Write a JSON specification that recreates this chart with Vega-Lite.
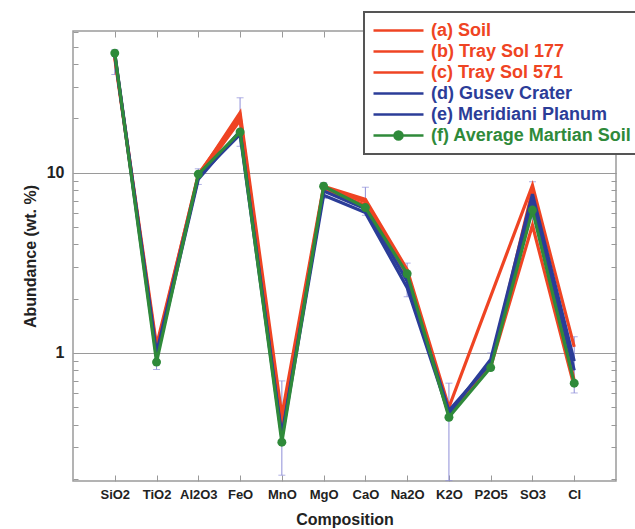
{
  "$schema": "https://vega.github.io/schema/vega-lite/v6.json",
  "autosize": {"type": "none"},
  "padding": {"left": 73, "top": 31, "right": 19, "bottom": 48},
  "width": 543,
  "height": 450,
  "config": {
    "view": {"stroke": "#9a9a9a", "strokeWidth": 1.5},
    "font": "Liberation Sans",
    "axis": {"labelFont": "Liberation Sans", "titleFont": "Liberation Sans"}
  },
  "datasets": {
    "soil": [
      {"oxide": "SiO2", "series": "(a) Soil", "value": 44},
      {"oxide": "TiO2", "series": "(a) Soil", "value": 1.1},
      {"oxide": "Al2O3", "series": "(a) Soil", "value": 9.6},
      {"oxide": "FeO", "series": "(a) Soil", "value": 21.5},
      {"oxide": "MnO", "series": "(a) Soil", "value": 0.45},
      {"oxide": "MgO", "series": "(a) Soil", "value": 8.4},
      {"oxide": "CaO", "series": "(a) Soil", "value": 7.1},
      {"oxide": "Na2O", "series": "(a) Soil", "value": 2.9},
      {"oxide": "K2O", "series": "(a) Soil", "value": 0.5},
      {"oxide": "SO3", "series": "(a) Soil", "value": 8.5},
      {"oxide": "Cl", "series": "(a) Soil", "value": 1.08},
      {"oxide": "SiO2", "series": "(b) Tray Sol 177", "value": 43},
      {"oxide": "TiO2", "series": "(b) Tray Sol 177", "value": 1.05},
      {"oxide": "Al2O3", "series": "(b) Tray Sol 177", "value": 9.8},
      {"oxide": "FeO", "series": "(b) Tray Sol 177", "value": 20.5},
      {"oxide": "MnO", "series": "(b) Tray Sol 177", "value": 0.4},
      {"oxide": "MgO", "series": "(b) Tray Sol 177", "value": 8.2},
      {"oxide": "CaO", "series": "(b) Tray Sol 177", "value": 6.9},
      {"oxide": "Na2O", "series": "(b) Tray Sol 177", "value": 2.8},
      {"oxide": "K2O", "series": "(b) Tray Sol 177", "value": 0.47},
      {"oxide": "P2O5", "series": "(b) Tray Sol 177", "value": 0.85},
      {"oxide": "SO3", "series": "(b) Tray Sol 177", "value": 8.0},
      {"oxide": "Cl", "series": "(b) Tray Sol 177", "value": 0.7},
      {"oxide": "SiO2", "series": "(c) Tray Sol 571", "value": 45},
      {"oxide": "TiO2", "series": "(c) Tray Sol 571", "value": 1.0},
      {"oxide": "Al2O3", "series": "(c) Tray Sol 571", "value": 9.4},
      {"oxide": "FeO", "series": "(c) Tray Sol 571", "value": 19.5},
      {"oxide": "MnO", "series": "(c) Tray Sol 571", "value": 0.42},
      {"oxide": "MgO", "series": "(c) Tray Sol 571", "value": 8.0},
      {"oxide": "CaO", "series": "(c) Tray Sol 571", "value": 6.6},
      {"oxide": "Na2O", "series": "(c) Tray Sol 571", "value": 2.7},
      {"oxide": "K2O", "series": "(c) Tray Sol 571", "value": 0.45},
      {"oxide": "P2O5", "series": "(c) Tray Sol 571", "value": 0.84},
      {"oxide": "SO3", "series": "(c) Tray Sol 571", "value": 5.1},
      {"oxide": "Cl", "series": "(c) Tray Sol 571", "value": 0.65},
      {"oxide": "SiO2", "series": "(d) Gusev Crater", "value": 46},
      {"oxide": "TiO2", "series": "(d) Gusev Crater", "value": 1.0},
      {"oxide": "Al2O3", "series": "(d) Gusev Crater", "value": 9.5},
      {"oxide": "FeO", "series": "(d) Gusev Crater", "value": 16.3},
      {"oxide": "MnO", "series": "(d) Gusev Crater", "value": 0.34},
      {"oxide": "MgO", "series": "(d) Gusev Crater", "value": 7.5},
      {"oxide": "CaO", "series": "(d) Gusev Crater", "value": 6.0},
      {"oxide": "Na2O", "series": "(d) Gusev Crater", "value": 2.3},
      {"oxide": "K2O", "series": "(d) Gusev Crater", "value": 0.46},
      {"oxide": "P2O5", "series": "(d) Gusev Crater", "value": 0.92},
      {"oxide": "SO3", "series": "(d) Gusev Crater", "value": 7.6},
      {"oxide": "Cl", "series": "(d) Gusev Crater", "value": 0.9},
      {"oxide": "SiO2", "series": "(e) Meridiani Planum", "value": 45},
      {"oxide": "TiO2", "series": "(e) Meridiani Planum", "value": 0.95},
      {"oxide": "Al2O3", "series": "(e) Meridiani Planum", "value": 9.2},
      {"oxide": "FeO", "series": "(e) Meridiani Planum", "value": 17.0},
      {"oxide": "MnO", "series": "(e) Meridiani Planum", "value": 0.35},
      {"oxide": "MgO", "series": "(e) Meridiani Planum", "value": 7.9},
      {"oxide": "CaO", "series": "(e) Meridiani Planum", "value": 6.3},
      {"oxide": "Na2O", "series": "(e) Meridiani Planum", "value": 2.5},
      {"oxide": "K2O", "series": "(e) Meridiani Planum", "value": 0.48},
      {"oxide": "P2O5", "series": "(e) Meridiani Planum", "value": 0.88},
      {"oxide": "SO3", "series": "(e) Meridiani Planum", "value": 7.0},
      {"oxide": "Cl", "series": "(e) Meridiani Planum", "value": 0.8},
      {"oxide": "SiO2", "series": "(f) Average Martian Soil", "value": 46},
      {"oxide": "TiO2", "series": "(f) Average Martian Soil", "value": 0.89},
      {"oxide": "Al2O3", "series": "(f) Average Martian Soil", "value": 9.8},
      {"oxide": "FeO", "series": "(f) Average Martian Soil", "value": 16.8},
      {"oxide": "MnO", "series": "(f) Average Martian Soil", "value": 0.32},
      {"oxide": "MgO", "series": "(f) Average Martian Soil", "value": 8.4},
      {"oxide": "CaO", "series": "(f) Average Martian Soil", "value": 6.4},
      {"oxide": "Na2O", "series": "(f) Average Martian Soil", "value": 2.75},
      {"oxide": "K2O", "series": "(f) Average Martian Soil", "value": 0.44},
      {"oxide": "P2O5", "series": "(f) Average Martian Soil", "value": 0.83},
      {"oxide": "SO3", "series": "(f) Average Martian Soil", "value": 6.2},
      {"oxide": "Cl", "series": "(f) Average Martian Soil", "value": 0.68}
    ],
    "errors": [
      {"oxide": "SiO2", "low": 35, "high": 48},
      {"oxide": "TiO2", "low": 0.81, "high": 1.2},
      {"oxide": "Al2O3", "low": 8.6, "high": 10.5},
      {"oxide": "FeO", "low": 14, "high": 26},
      {"oxide": "MnO", "low": 0.21, "high": 0.7},
      {"oxide": "MgO", "low": 7.2, "high": 8.8},
      {"oxide": "CaO", "low": 5.8, "high": 8.3},
      {"oxide": "Na2O", "low": 2.05, "high": 3.15},
      {"oxide": "K2O", "low": 0.196, "high": 0.68},
      {"oxide": "P2O5", "low": 0.8, "high": 1.0},
      {"oxide": "SO3", "low": 5.0, "high": 8.9},
      {"oxide": "Cl", "low": 0.6, "high": 1.23}
    ]
  },
  "resolve": {"axis": {"x": "independent", "y": "independent"}},
  "layer": [
    {
      "data": {"name": "errors"},
      "mark": {"type": "errorbar", "ticks": {"size": 7}, "color": "#8e8ed8", "thickness": 1},
      "encoding": {
        "x": {"field": "oxide", "type": "nominal", "axis": null,
              "scale": {"type": "point", "padding": 1, "domain": ["SiO2", "TiO2", "Al2O3", "FeO", "MnO", "MgO", "CaO", "Na2O", "K2O", "P2O5", "SO3", "Cl"]}},
        "y": {"field": "low", "type": "quantitative", "axis": null,
              "scale": {"type": "log", "domain": [0.195, 61], "nice": false}},
        "y2": {"field": "high"}
      }
    },
    {
      "data": {"name": "soil"},
      "mark": {"type": "line", "strokeWidth": 3.2},
      "encoding": {
        "x": {"field": "oxide", "type": "nominal", "sort": null,
              "axis": {"title": "Composition", "titleFontSize": 16, "titleFontWeight": "bold", "titleColor": "#222",
                       "labelFontSize": 13, "labelFontWeight": "bold", "labelColor": "#222", "labelAngle": 0,
                       "labelPadding": 13, "tickSize": -6, "tickColor": "#999", "domain": false, "grid": false, "titlePadding": 10}},
        "y": {"field": "value", "type": "quantitative",
              "axis": {"title": "Abundance (wt. %)", "titleFontSize": 16, "titleFontWeight": "bold", "titleColor": "#222",
                       "values": [0.2, 0.3, 0.4, 0.5, 0.6, 0.7, 0.8, 0.9, 1, 2, 3, 4, 5, 6, 7, 8, 9, 10, 20, 30, 40, 50, 60],
                       "labelExpr": "datum.value === 1 || datum.value === 10 ? format(datum.value, 'd') : ''",
                       "labelFontSize": 16, "labelFontWeight": "bold", "labelColor": "#222", "labelPadding": 14,
                       "tickSize": -5, "tickColor": "#999", "domain": false, "titlePadding": 8,
                       "grid": true,
                       "gridColor": {"condition": {"test": "datum.value === 1 || datum.value === 10", "value": "#9a9a9a"}, "value": "transparent"},
                       "gridWidth": 1.2}},
        "color": {"field": "series", "type": "nominal",
                  "scale": {"domain": ["(a) Soil", "(b) Tray Sol 177", "(c) Tray Sol 571", "(d) Gusev Crater", "(e) Meridiani Planum", "(f) Average Martian Soil"],
                            "range": ["#ef4423", "#ef4423", "#ef4423", "#2b3d98", "#2b3d98", "#2f8a3a"]},
                  "legend": {"orient": "none", "legendX": 291, "legendY": -19, "title": null, "direction": "vertical",
                             "symbolType": "stroke", "symbolSize": 2500, "symbolStrokeWidth": 2.5,
                             "labelFontSize": 18, "labelFontWeight": "bold", "labelFont": "Liberation Sans", "labelLimit": 400, "labelOffset": 6,
                             "clipHeight": 21, "rowPadding": 0, "padding": 8, "strokeColor": "#555", "fillColor": "white",
                             "encode": {
                               "legend": {"update": {"strokeWidth": {"value": 2}}},
                               "labels": {"update": {"fill": {"scale": "color", "field": "value"}}},
                               "symbols": {"update": {
                                 "shape": {"signal": "datum.value === '(f) Average Martian Soil' ? 'M-1,0H1M-0.16,0A0.16,0.16,0,1,0,0.16,0A0.16,0.16,0,1,0,-0.16,0' : 'stroke'"},
                                 "fill": {"scale": "color", "field": "value"},
                                 "stroke": {"scale": "color", "field": "value"}
                               }}
                             }}}
      }
    },
    {
      "data": {"name": "soil"},
      "transform": [{"filter": "datum.series === '(f) Average Martian Soil'"}],
      "mark": {"type": "point", "filled": true, "size": 80, "color": "#2f8a3a", "opacity": 1},
      "encoding": {
        "x": {"field": "oxide", "type": "nominal", "axis": null},
        "y": {"field": "value", "type": "quantitative", "axis": null}
      }
    },
    {
      "data": {"name": "soil"},
      "mark": {"type": "point", "opacity": 0},
      "encoding": {
        "x": {"field": "oxide", "type": "nominal",
              "axis": {"orient": "top", "title": null, "labels": false, "domain": false, "grid": false, "tickSize": -6, "tickColor": "#999"}},
        "y": {"field": "value", "type": "quantitative",
              "axis": {"orient": "right", "title": null, "labels": false, "domain": false, "grid": false, "tickSize": -5, "tickColor": "#999",
                       "values": [0.2, 0.3, 0.4, 0.5, 0.6, 0.7, 0.8, 0.9, 1, 2, 3, 4, 5, 6, 7, 8, 9, 10, 20, 30, 40, 50, 60]}}
      }
    }
  ]
}
